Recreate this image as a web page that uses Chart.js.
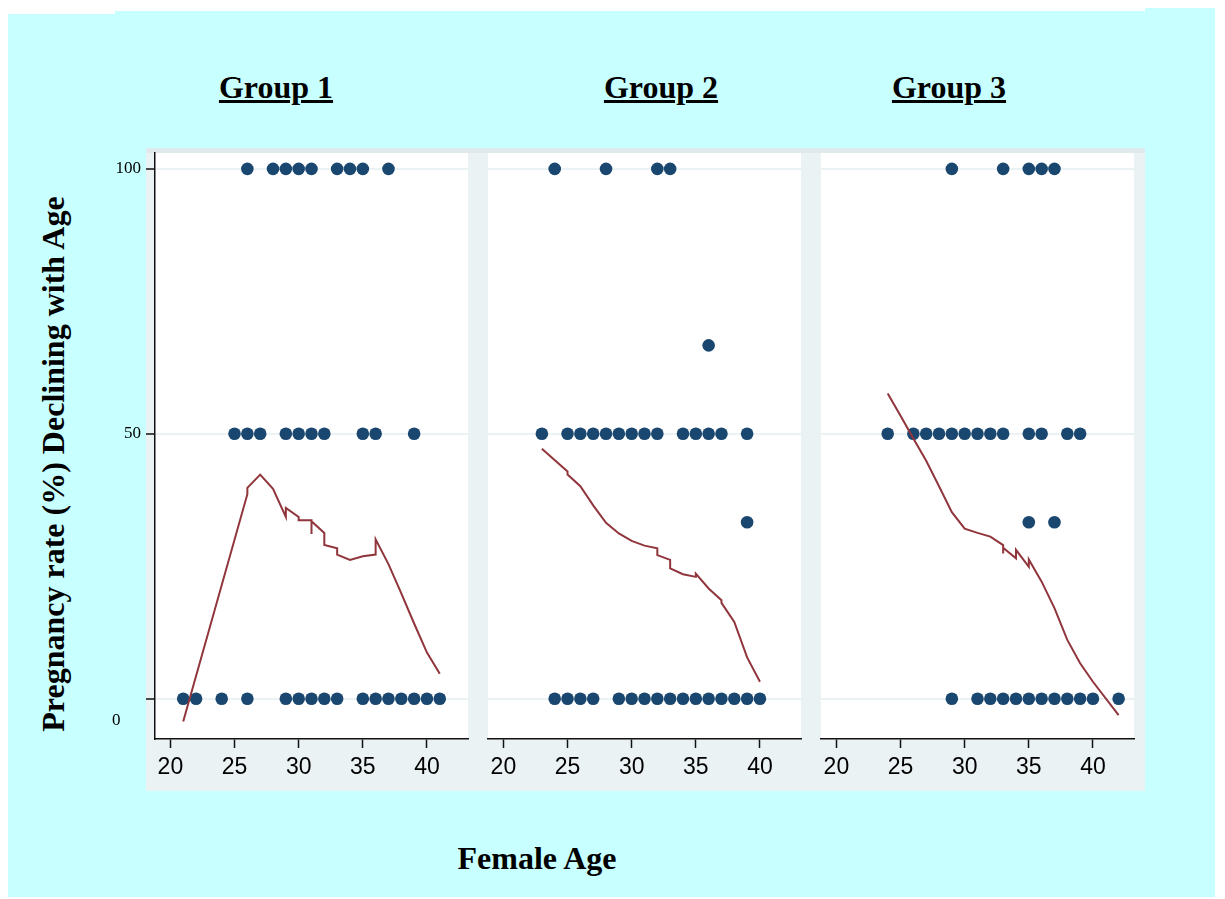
<!DOCTYPE html>
<html>
<head>
<meta charset="utf-8">
<title>Pregnancy rate declining with age</title>
<script src="https://cdn.jsdelivr.net/npm/chart.js@4.4.1/dist/chart.umd.min.js"></script>
<style>
  html, body { margin: 0; padding: 0; background: #fff; }
  body { width: 1225px; height: 899px; position: relative; overflow: hidden;
         font-family: "Liberation Serif", "Times New Roman", serif; }
  .bg { position: absolute; background: #c8ffff; }
  #plotbox { position: absolute; left: 146px; top: 148px; width: 999px; height: 643px;
             background: #eaf2f3; border-top: 5px solid #e0e9ec; box-sizing: border-box; }
  .panel { position: absolute; top: 140px; }
  .txt { position: absolute; font-weight: bold; font-size: 32px; line-height: 32px;
         white-space: nowrap; color: #000; text-align: center; }
  .grp { width: 200px; top: 71px; text-decoration: underline; }
</style>
</head>
<body>
<div class="bg" style="left:8px; top:14px; width:1207px; height:883px;"></div>
<div class="bg" style="left:115px; top:11px; width:1030px; height:10px;"></div>
<div class="bg" style="left:1145px; top:8px; width:70px; height:10px;"></div>
<div id="plotbox"></div>

<div class="txt grp" style="left:176px;">Group 1</div>
<div class="txt grp" style="left:561px;">Group 2</div>
<div class="txt grp" style="left:849px;">Group 3</div>
<div class="txt" style="left:437px; top:842px; width:200px;">Female Age</div>
<div class="txt" style="left:-247px; top:448px; width:600px; transform:rotate(-90deg);">Pregnancy rate (%) Declining with Age</div>

<canvas id="panel1" class="panel" width="398" height="660" style="left:80px;"></canvas>
<canvas id="panel2" class="panel" width="333" height="660" style="left:478px;"></canvas>
<canvas id="panel3" class="panel" width="333" height="660" style="left:811px;"></canvas>

<script>
// Beobachtungen je Gruppe (Alter, Rate in %)
const g1Ages  = [26, 28, 29, 30, 31, 33, 34, 35, 37,
                 25, 26, 27, 29, 30, 31, 32, 35, 36, 39,
                 21, 22, 24, 26, 29, 30, 31, 32, 33, 35, 36, 37, 38, 39, 40, 41];
const g1Rates = [100, 100, 100, 100, 100, 100, 100, 100, 100,
                 50, 50, 50, 50, 50, 50, 50, 50, 50, 50,
                 0, 0, 0, 0, 0, 0, 0, 0, 0, 0, 0, 0, 0, 0, 0, 0];

const g2Ages  = [24, 28, 32, 33,
                 36,
                 23, 25, 26, 27, 28, 29, 30, 31, 32, 34, 35, 36, 37, 39,
                 39,
                 24, 25, 26, 27, 29, 30, 31, 32, 33, 34, 35, 36, 37, 38, 39, 40];
const g2Rates = [100, 100, 100, 100,
                 66.7,
                 50, 50, 50, 50, 50, 50, 50, 50, 50, 50, 50, 50, 50, 50,
                 33.3,
                 0, 0, 0, 0, 0, 0, 0, 0, 0, 0, 0, 0, 0, 0, 0, 0];

const g3Ages  = [29, 33, 35, 36, 37,
                 24, 26, 27, 28, 29, 30, 31, 32, 33, 35, 36, 38, 39,
                 35, 37,
                 29, 31, 32, 33, 34, 35, 36, 37, 38, 39, 40, 42];
const g3Rates = [100, 100, 100, 100, 100,
                 50, 50, 50, 50, 50, 50, 50, 50, 50, 50, 50, 50, 50,
                 33.3, 33.3,
                 0, 0, 0, 0, 0, 0, 0, 0, 0, 0, 0, 0];

// Geglaettete Kurven
const fit1Ages  = [21, 26, 26, 27, 28, 29, 29, 30, 30, 31, 31, 31, 32, 32, 33, 33, 34, 35, 36, 36, 37, 38, 39, 40, 41];
const fit1Rates = [-4.3, 38.6, 39.8, 42.3, 39.6, 34.3, 36.0, 34.3, 33.7, 33.7, 31.1, 33.5, 31.3, 29.0, 28.4, 27.2, 26.2, 26.9, 27.2, 30.1, 25.4, 19.9, 14.2, 8.7, 4.7];

const fit2Ages  = [23, 25, 25, 26, 27, 28, 29, 30, 31, 32, 32, 33, 33, 34, 35, 35, 36, 37, 37, 38, 39, 40];
const fit2Rates = [47.2, 42.9, 42.3, 40.1, 36.5, 33.2, 31.2, 29.8, 28.9, 28.4, 27.1, 26.2, 24.6, 23.5, 23.0, 23.6, 20.8, 18.6, 18.1, 14.5, 7.8, 3.2];

const fit3Ages  = [24, 25, 26, 27, 28, 29, 30, 31, 32, 33, 33, 33, 34, 34, 35, 35, 36, 37, 38, 39, 40, 42];
const fit3Rates = [57.6, 53.4, 49.1, 44.9, 40.1, 35.2, 32.1, 31.3, 30.6, 29.0, 27.4, 28.5, 26.5, 28.1, 24.9, 26.3, 22.1, 17.1, 11.1, 6.7, 3.2, -3.1];

// Achsen
const xTicks = [20, 25, 30, 35, 40];
const yTicks = [100, 50, 0];
const xMin = 18.8, xMax = 43.2;
const yMin = -7.6, yMax = 103;
const zeroLabelSpot = -4.2; // Stata setzt die "0" etwas tiefer und weiter links

const dotColor = '#1a476f';
const lineColor = '#90353b';
const gridColor = '#eaf2f3';
const axisColor = '#111';
const serif = '"Liberation Serif", "Times New Roman", serif';
const sans = '"Liberation Sans", Arial, sans-serif';

const whitePlotArea = {
    id: 'whitePlotArea',
    beforeDraw(chart) {
        const { ctx, chartArea: a } = chart;
        ctx.save();
        ctx.fillStyle = '#fff';
        ctx.fillRect(a.left, a.top, a.right - a.left, a.bottom - a.top);
        ctx.restore();
    }
};

function toPoints(xs, ys) {
    return xs.map((x, i) => ({ x: x, y: ys[i] }));
}

function yLabel(v) {
    if (v === zeroLabelSpot) return '0\u2002\u2002\u2009';
    if (v === 0) return '';
    return String(v);
}

// feste Achsenmasse, damit alle drei Panels gleich skaliert sind
function fixSize(s, w, h) {
    if (w !== null) s.width = w;
    if (h !== null) s.height = h;
    s.paddingTop = 0;
    s.paddingBottom = 0;
    s.paddingLeft = 0;
    s.paddingRight = 0;
}

function makePanel(canvasId, ages, rates, fitAges, fitRates, showY) {
    const ctx = document.getElementById(canvasId).getContext('2d');
    return new Chart(ctx, {
        type: 'scatter',
        data: {
            datasets: [{
                label: 'fit',
                data: toPoints(fitAges, fitRates),
                showLine: true,
                borderColor: lineColor,
                borderWidth: 2,
                pointRadius: 0,
                fill: false,
                order: 0
            }, {
                label: 'obs',
                data: toPoints(ages, rates),
                pointRadius: 6.3,
                pointHoverRadius: 6.3,
                backgroundColor: dotColor,
                borderWidth: 0,
                order: 1
            }]
        },
        options: {
            responsive: false,
            animation: false,
            events: [],
            layout: {
                autoPadding: false,
                padding: { left: showY ? 0 : 10, right: 10, top: 13, bottom: 0 }
            },
            plugins: { legend: { display: false }, tooltip: { enabled: false } },
            scales: {
                x: {
                    type: 'linear',
                    min: xMin,
                    max: xMax,
                    afterBuildTicks: s => { s.ticks = xTicks.map(v => ({ value: v })); },
                    afterFit: s => fixSize(s, null, 61),
                    ticks: {
                        padding: 6,
                        color: '#000',
                        font: { family: sans, size: 23 },
                        maxRotation: 0
                    },
                    grid: {
                        drawOnChartArea: false,
                        drawTicks: true,
                        tickLength: 9,
                        tickWidth: 1.5,
                        tickColor: axisColor
                    },
                    border: { display: true, color: axisColor, width: 1.5 }
                },
                y: {
                    type: 'linear',
                    min: yMin,
                    max: yMax,
                    afterBuildTicks: s => {
                        const vals = showY ? yTicks.concat([zeroLabelSpot]) : yTicks;
                        s.ticks = vals.map(v => ({ value: v }));
                    },
                    afterFit: s => fixSize(s, showY ? 75 : 0, null),
                    ticks: {
                        display: showY,
                        padding: 5,
                        color: '#000',
                        font: { family: serif, size: 17 },
                        callback: yLabel
                    },
                    grid: {
                        color: c => (c.tick && c.tick.value === zeroLabelSpot ? 'rgba(0,0,0,0)' : gridColor),
                        lineWidth: 2,
                        drawTicks: showY,
                        tickLength: 9,
                        tickWidth: 1.5,
                        tickColor: c => (c.tick && c.tick.value === zeroLabelSpot ? 'rgba(0,0,0,0)' : axisColor)
                    },
                    border: { display: showY, color: axisColor, width: 1.5 }
                }
            }
        },
        plugins: [whitePlotArea]
    });
}

makePanel('panel1', g1Ages, g1Rates, fit1Ages, fit1Rates, true);
makePanel('panel2', g2Ages, g2Rates, fit2Ages, fit2Rates, false);
makePanel('panel3', g3Ages, g3Rates, fit3Ages, fit3Rates, false);
</script>
</body>
</html>
